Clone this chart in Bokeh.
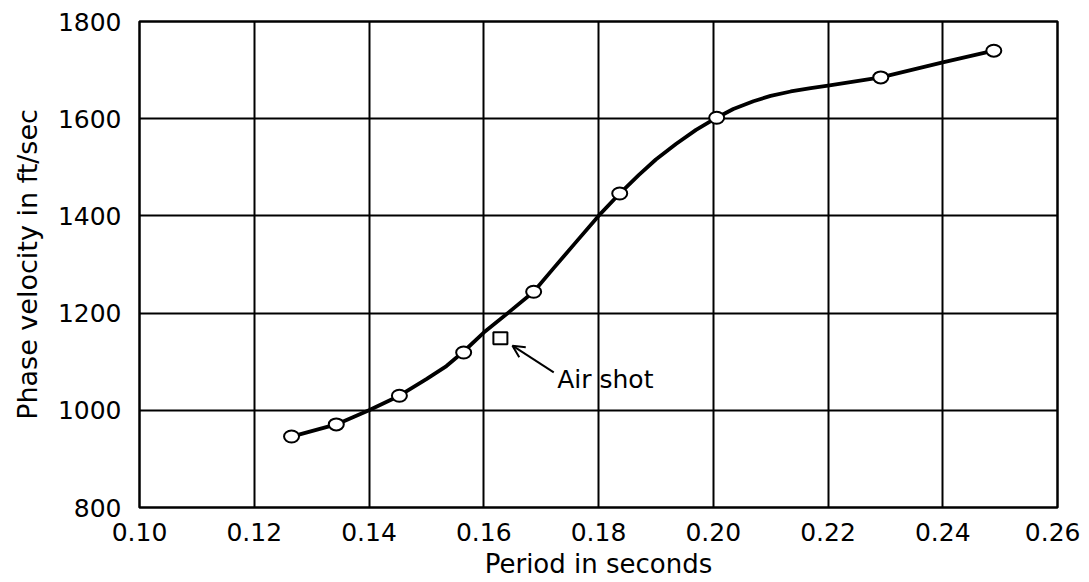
from bokeh.plotting import figure
from bokeh.models import Arrow, OpenHead, Label, FixedTicker
from bokeh.embed import file_html
from bokeh.resources import INLINE

# Measured data points (period s, phase velocity ft/sec)
period = [0.1265, 0.1343, 0.1453, 0.1565, 0.1687, 0.1837, 0.2006, 0.2292, 0.2489]
velocity = [946, 971, 1030, 1119, 1244, 1446, 1602, 1685, 1740]

# Air shot point
air_period = [0.1629]
air_velocity = [1148]

# Smooth hand-drawn curve
curve_period = [0.1265, 0.1343, 0.14, 0.1453, 0.15, 0.1535, 0.1565, 0.16, 0.1645, 0.1687, 0.172,
                0.176, 0.18, 0.1837, 0.187, 0.19, 0.1935, 0.197, 0.2006, 0.2035, 0.207, 0.21,
                0.2135, 0.217, 0.22, 0.2292, 0.24, 0.2489]
curve_velocity = [946, 971, 1000, 1030, 1064, 1091, 1121, 1160, 1203, 1244, 1290,
                  1345, 1400, 1446, 1484, 1516, 1548, 1577, 1602, 1620, 1636, 1647,
                  1656, 1663, 1668, 1685, 1716, 1740]

x_ticks = [0.10, 0.12, 0.14, 0.16, 0.18, 0.20, 0.22, 0.24, 0.26]
y_ticks = [800, 1000, 1200, 1400, 1600, 1800]

# annotation
label_text = "Air shot"
label_pos = (0.1728, 1063)
arrow_tail = (0.1722, 1078)
arrow_head = (0.1650, 1133)
y_title = "Phase velocity in ft/sec"
x_title = "Period in seconds"

p = figure(width=1080, height=574, x_range=(0.10, 0.26), y_range=(800, 1800),
           output_backend="svg", toolbar_location=None,
           min_border_left=139, min_border_top=21, min_border_right=23, min_border_bottom=67)
p.frame_width = 918
p.frame_height = 486

p.outline_line_color = "black"
p.outline_line_width = 2.5
p.background_fill_color = "white"
p.border_fill_color = "white"

p.xaxis.ticker = FixedTicker(ticks=x_ticks)
p.yaxis.ticker = FixedTicker(ticks=y_ticks)
p.xaxis.major_label_overrides = {t: f"{t:.2f}" for t in x_ticks}
for ax in (p.xaxis, p.yaxis):
    ax.axis_line_color = None
    ax.major_tick_line_color = None
    ax.minor_tick_line_color = None
    ax.major_label_text_font = "DejaVu Sans"
    ax.major_label_text_font_size = "25px"
    ax.major_label_text_color = "black"
    ax.axis_label_text_font_style = "normal"
    ax.axis_label_text_color = "black"
p.xaxis.major_label_standoff = 9
p.yaxis.major_label_standoff = 12
p.xaxis.axis_label = x_title
p.xaxis.axis_label_text_font = "DejaVu Sans"
p.xaxis.axis_label_text_font_size = "26px"
p.xaxis.axis_label_standoff = 5
p.yaxis.axis_label = y_title
p.yaxis.axis_label_text_font = "DejaVu Sans"
p.yaxis.axis_label_text_font_size = "27px"
p.yaxis.axis_label_standoff = 12

p.xgrid.grid_line_color = "black"
p.ygrid.grid_line_color = "black"
p.xgrid.grid_line_width = 2
p.ygrid.grid_line_width = 2
p.xgrid.grid_line_alpha = 1
p.ygrid.grid_line_alpha = 1

p.line(curve_period, curve_velocity, line_color="black", line_width=3.8, line_join="round")
p.ellipse(period, velocity, width=15, height=12, width_units="screen", height_units="screen",
          fill_color="white", line_color="black", line_width=2)
p.rect(air_period, air_velocity, width=14, height=12, width_units="screen", height_units="screen",
       fill_color="white", line_color="black", line_width=2)

p.add_layout(Arrow(end=OpenHead(size=12, line_width=2, line_color="black"),
                   x_start=arrow_tail[0], y_start=arrow_tail[1],
                   x_end=arrow_head[0], y_end=arrow_head[1],
                   line_color="black", line_width=2))
p.add_layout(Label(x=label_pos[0], y=label_pos[1], text=label_text,
                   text_font="DejaVu Sans", text_font_size="25px",
                   text_baseline="middle", text_align="left", text_color="black"))

open("out.html", "w").write(file_html(p, INLINE))
